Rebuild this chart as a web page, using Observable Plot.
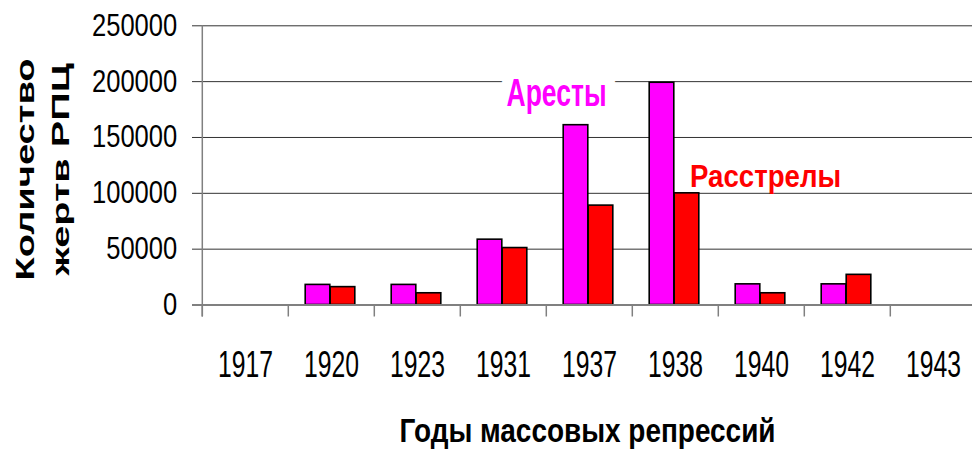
<!DOCTYPE html>
<html><head><meta charset="utf-8">
<script src="https://cdn.jsdelivr.net/npm/d3@7"></script>
<script src="https://cdn.jsdelivr.net/npm/@observablehq/plot@0.6"></script>
<style>
html,body{margin:0;padding:0;background:#fff;}
#chart svg{display:block;}
</style></head><body><div id="chart"></div>
<script>
// ---- data ----
const years = ["1917","1920","1923","1931","1937","1938","1940","1942","1943"];
const arrests = [0, 18000, 18000, 58500, 161000, 199000, 18500, 18500, 0];
const executions = [0, 16000, 10500, 51000, 89000, 100000, 10500, 27000, 0];
const yTicks = [0, 50000, 100000, 150000, 200000, 250000];
const seriesNames = ["Аресты", "Расстрелы"];
const seriesLabelYears = ["1937", "1940"];
const seriesLabelValues = [178600, 106100];
const yTitleLines = ["Количество", "жертв РПЦ"];
const xTitle = "Годы массовых репрессий";

// ---- styling / layout ----
const colors = ["#ff00ff", "#ff0000"];
const narrow = '"Liberation Sans",Arial,sans-serif';
const wide = '"Liberation Sans",Arial,sans-serif';
const xRange = [200, 977.6];
const step = (xRange[1] - xRange[0]) / years.length;
const half = step / 2;
const barW = 25, shift = -1;

const rows = (vals) => years.map((year, i) => ({year, value: vals[i]})).filter(d => d.value > 0);
const labelRows = seriesNames.map((name, i) => ({name, year: seriesLabelYears[i], value: seriesLabelValues[i], color: colors[i]}));

const chart = Plot.plot({
  width: 972, height: 451,
  marginLeft: 200, marginRight: 0, marginTop: 25.3, marginBottom: 146.5,
  style: {background: "#fff", color: "#000"},
  x: {type: "band", domain: years, range: xRange, padding: 0, axis: null},
  y: {domain: [0, 250000], axis: null},
  marks: [
    // gridlines + left ticks
    Plot.ruleY(yTicks.filter(d => d > 0), {y: d => d, insetLeft: -8, stroke: "#333", strokeWidth: 1}),
    // bars
    Plot.barY(rows(arrests), {x: "year", y1: 0, y2: "value", fill: colors[0], stroke: "#000", strokeWidth: 1.6,
      insetLeft: half - barW + shift, insetRight: half - shift}),
    Plot.barY(rows(executions), {x: "year", y1: 0, y2: "value", fill: colors[1], stroke: "#000", strokeWidth: 1.6,
      insetLeft: half + shift, insetRight: half - barW - shift}),
    // axes lines
    Plot.ruleX([years[0]], {x: d => d, dx: -half, insetBottom: -12, stroke: "#808080", strokeWidth: 1.5}),
    Plot.ruleX(years, {x: d => d, dx: -half, y1: 0, y2: 0, insetBottom: -12, stroke: "#808080", strokeWidth: 1.5}),
    Plot.ruleY([0], {y: d => d, insetLeft: -8, stroke: "#808080", strokeWidth: 2}),
    // y tick labels
    Plot.text(yTicks, {y: d => d, text: d => String(d), frameAnchor: "left", textAnchor: "end", dx: -23.3,
      fontSize: 31, fontFamily: narrow, fill: "#000"}),
    // x tick labels
    Plot.text(years, {x: d => d, text: d => d, frameAnchor: "bottom", lineAnchor: "bottom", dy: 72.2,
      fontSize: 36, fontFamily: narrow, fill: "#000"}),
    // series labels
    Plot.text(labelRows.slice(0, 1), {x: "year", y: "value", text: "name", dx: -33, lineAnchor: "bottom",
      fill: "color", fontSize: 38, fontWeight: "bold", fontFamily: narrow, stroke: "#fff", strokeWidth: 30}),
    Plot.text(labelRows.slice(1), {x: "year", y: "value", text: "name", dx: 4, lineAnchor: "bottom",
      fill: "color", fontSize: 32, fontWeight: "bold", fontFamily: narrow}),
    // axis titles
    Plot.text([yTitleLines[0]], {text: d => d, frameAnchor: "left", textAnchor: "middle", rotate: -90, lineAnchor: "bottom",
      dx: -167, dy: 4, fontSize: 25, fontWeight: "bold", fontFamily: wide, fill: "#000"}),
    Plot.text([yTitleLines[1]], {text: d => d, frameAnchor: "left", textAnchor: "middle", rotate: -90, lineAnchor: "bottom",
      dx: -132, dy: 4, fontSize: 24, fontWeight: "bold", fontFamily: wide, fill: "#000"}),
    Plot.text([xTitle], {text: d => d, frameAnchor: "bottom", lineAnchor: "bottom", dy: 137.2, dx: 1,
      fontSize: 34, fontWeight: "bold", fontFamily: narrow, fill: "#000"})
  ]
});
document.getElementById("chart").appendChild(chart);

// fit text widths to the reference's condensed lettering
const fit = new Map();
years.forEach(y => fit.set(y, 55));
yTicks.forEach(v => fit.set(String(v), String(v).length * 14.2));
fit.set(seriesNames[0], 100);
fit.set(seriesNames[1], 151);
fit.set(yTitleLines[0], 222);
fit.set(yTitleLines[1], 212);
fit.set(xTitle, 376);
d3.select(chart).selectAll("text").each(function () {
  const w = fit.get(this.textContent);
  if (w) d3.select(this).attr("textLength", w).attr("lengthAdjust", "spacingAndGlyphs");
});
</script></body></html>
